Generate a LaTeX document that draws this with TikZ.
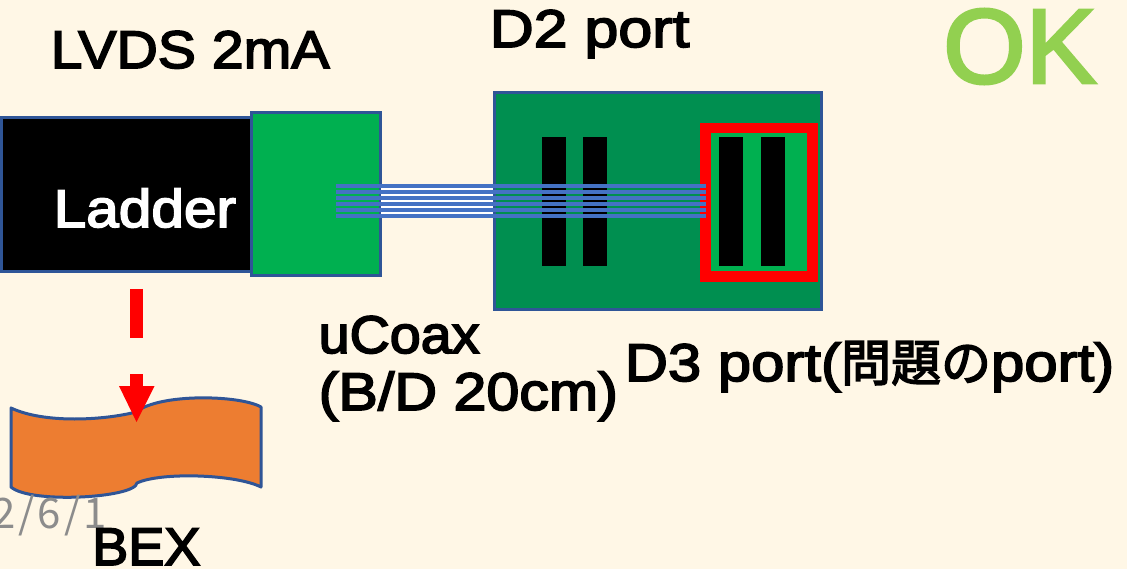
\documentclass[tikz,border=0pt]{standalone}
\usepackage{fontspec}
\setmainfont{Liberation Sans}
\newfontfamily\medf[FakeBold=3.2]{Liberation Sans}
\newfontfamily\okf[FakeBold=2.8]{Liberation Sans}
\newfontfamily\cjk[FakeBold=3]{Noto Sans CJK JP}
\newfontfamily\datef[LetterSpace=7]{Noto Sans CJK JP}
\newcommand{\wf}[1]{\addfontfeature{FakeStretch=#1}}
\definecolor{bg}{HTML}{FFF7E6}
\definecolor{edge}{HTML}{2F5597}
\definecolor{wire}{HTML}{4472C4}
\definecolor{brightgreen}{HTML}{00B050}
\definecolor{boardgreen}{HTML}{008F50}
\definecolor{okgreen}{HTML}{92D050}
\definecolor{bexorange}{HTML}{ED7D31}
\tikzset{
  x=1pt,y=-1pt,
  box/.style={draw=edge,line width=3pt,inner sep=0,outer sep=0,anchor=north west},
  pin/.style={fill=black,inner sep=0,outer sep=0,anchor=north west,minimum width=24pt,minimum height=129pt},
  label/.style={font=\medf\fontsize{53}{53}\selectfont,text=black,inner sep=0,anchor=base west},
  wirel/.style={draw=wire,line width=3.8pt},
}
\begin{document}
\begin{tikzpicture}
\useasboundingbox[fill=bg] (0,0) rectangle (1127,569);
% Ladder and connector board
\node[box,fill=black,minimum width=250pt,minimum height=154pt] (ladder) at (1,118) {};
\node[box,fill=brightgreen,minimum width=129pt,minimum height=163pt] (conn) at (251,113) {};
\node[label,text=white] (laddertext) at (53.5,227) {\wf{1.105}Ladder};
% D2/D3 board
\node[box,fill=boardgreen,minimum width=327pt,minimum height=217pt] (board) at (494,92.5) {};
\node[pin] (p1) at (541.7,136.7) {};
\node[pin] (p2) at (583.3,136.7) {};
\node[draw=red,fill=brightgreen,line width=10.5pt,inner sep=0,outer sep=0,anchor=north west,minimum width=107pt,minimum height=148.5pt] (port) at (705.5,128) {};
\node[pin] (p3) at (719,136.7) {};
\node[pin] (p4) at (761,136.7) {};
% cable
\coordinate (cableL) at (336,201);
\coordinate (cableR) at (706,201);
\node[fill=white,inner sep=0,outer sep=0,anchor=north west,minimum width=112pt,minimum height=34pt] (gap) at (381,184) {};
\foreach \dy in {-15.3,-9.3,-3.3,3,9,15.3}{
  \draw[wirel] ([yshift=-\dy pt]cableL) -- ([yshift=-\dy pt]cableR);
}
% BEX shape
\path[draw=edge,line width=3pt,fill=bexorange,line join=round]
  (11,408) .. controls (45,424) and (105,420) .. (136,412)
  .. controls (160,393) and (240,395) .. (261,407)
  -- (261,487)
  .. controls (235,474) and (160,472) .. (137,483)
  .. controls (135,498) and (30,504) .. (11,487) -- cycle;
% red arrow
\coordinate (arrowtop) at (136.5,289);
\coordinate (arrowbrk) at (136.5,338);
\coordinate (arrowres) at (136.5,374);
\coordinate (arrowtip) at (136.5,422);
\draw[red,line width=12.5pt] (arrowtop) -- (arrowbrk);
\draw[red,line width=12.5pt] (arrowres) -- ([yshift=-14pt]arrowres);
\fill[red] (119,386) -- (154.5,386) -- (arrowtip) -- cycle;
% date
\node[font=\datef\fontsize{42}{42}\selectfont,text=black!45,inner sep=0,anchor=base west] (date) at (-8,528) {2/6/1};
% labels
\node[label] (lvds) at (50.5,68) {\wf{1.08}LVDS 2mA};
\node[label] (d2) at (489.5,47) {\wf{1.15}D2 port};
\node[font=\okf\fontsize{106}{106}\selectfont,text=okgreen,inner sep=0,anchor=base west] (ok) at (943,83) {OK};
\node[label] (ucoax) at (318.5,353) {\wf{1.05}uCoax};
\node[label] (bd) at (318.5,410) {\wf{1.117}(B/D 20cm)};
\node[label] (d3) at (624.5,381) {\wf{1.13}D3 port({\cjk\fontsize{50}{50}\selectfont 問題の}port)};
\node[label] (bex) at (92,565) {\wf{1.02}BEX};
\end{tikzpicture}
\end{document}
